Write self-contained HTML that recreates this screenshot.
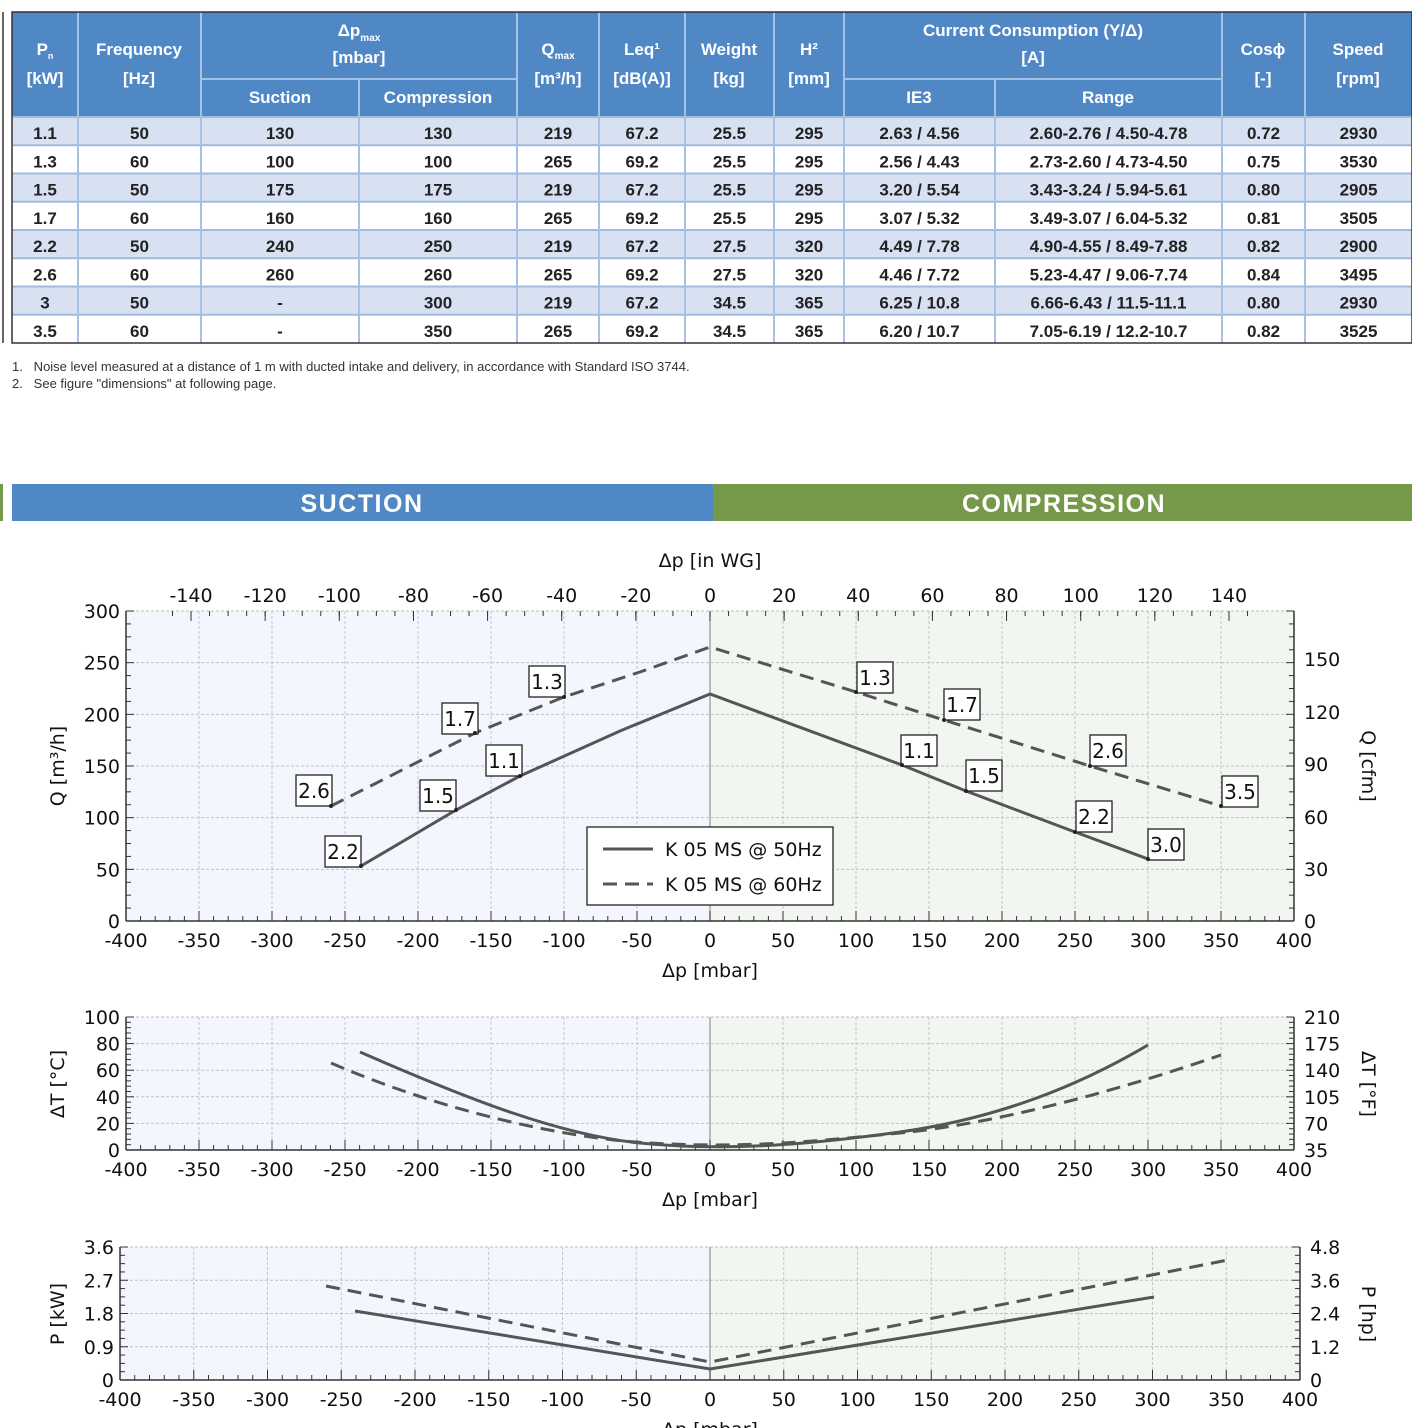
<!DOCTYPE html>
<html><head><meta charset="utf-8">
<style>
html,body{margin:0;padding:0;background:#fff;}
svg{display:block;}
.h{font-family:"Liberation Sans",sans-serif;font-weight:bold;fill:#fff;font-size:17px;text-anchor:middle;}
.d{font-family:"Liberation Sans",sans-serif;font-weight:bold;fill:#222;font-size:17px;text-anchor:middle;}
.t{font-family:"DejaVu Sans","Liberation Sans",sans-serif;fill:#111;font-size:19px;}
.n{font-family:"Liberation Sans",sans-serif;fill:#333;font-size:13px;}
</style></head><body>
<svg id="s" width="1412" height="1428" xmlns="http://www.w3.org/2000/svg"></svg>
<script>
const S=document.getElementById('s');let o='';
function R(x,y,w,h,f,extra){o+=`<rect x="${x}" y="${y}" width="${w}" height="${h}" fill="${f}" ${extra||''}/>`;}
function L(x1,y1,x2,y2,c,w,extra){o+=`<line x1="${x1}" y1="${y1}" x2="${x2}" y2="${y2}" stroke="${c}" stroke-width="${w}" ${extra||''}/>`;}
function T(x,y,s,cls,extra){o+=`<text x="${x}" y="${y}" class="${cls}" ${extra||''}>${s}</text>`;}
L(3,12,3,343,'#333',1.5);R(0,484,3,37,'#76984a');
const cols=[12,78,201,359,517,599,685,774,844,995,1222,1305,1412];
R(12,12,1400,105,'#5088c6');
const rows=[["1.1","50","130","130","219","67.2","25.5","295","2.63 / 4.56","2.60-2.76 / 4.50-4.78","0.72","2930"],
["1.3","60","100","100","265","69.2","25.5","295","2.56 / 4.43","2.73-2.60 / 4.73-4.50","0.75","3530"],
["1.5","50","175","175","219","67.2","25.5","295","3.20 / 5.54","3.43-3.24 / 5.94-5.61","0.80","2905"],
["1.7","60","160","160","265","69.2","25.5","295","3.07 / 5.32","3.49-3.07 / 6.04-5.32","0.81","3505"],
["2.2","50","240","250","219","67.2","27.5","320","4.49 / 7.78","4.90-4.55 / 8.49-7.88","0.82","2900"],
["2.6","60","260","260","265","69.2","27.5","320","4.46 / 7.72","5.23-4.47 / 9.06-7.74","0.84","3495"],
["3","50","-","300","219","67.2","34.5","365","6.25 / 10.8","6.66-6.43 / 11.5-11.1","0.80","2930"],
["3.5","60","-","350","265","69.2","34.5","365","6.20 / 10.7","7.05-6.19 / 12.2-10.7","0.82","3525"]];
const rh=28.25;
rows.forEach((r,i)=>{const y=117+i*rh;R(12,y,1400,rh,i%2?'#fff':'#d7e1f2');
 r.forEach((v,j)=>T((cols[j]+cols[j+1])/2,y+22,v,'d'));
 L(12,y,1412,y,'#9fbbe0',2);});
cols.forEach((x,j)=>{if(j>0&&j<cols.length-1){const y0=(x==359||x==995)?79:12;L(x,y0,x,343,'#a7c1e4',2);}});
L(201,79,517,79,'#a7c1e4',2);L(844,79,1222,79,'#a7c1e4',2);
o+=`<rect x="12" y="12" width="1400" height="331" fill="none" stroke="#333" stroke-width="1.5"/>`;
T(45,55,'P<tspan font-size="9" dy="4">n</tspan>','h');T(45,84,'[kW]','h');
T(139,55,'Frequency','h');T(139,84,'[Hz]','h');
T(359,36,'Δp<tspan font-size="10" dy="5">max</tspan>','h');T(359,63,'[mbar]','h');
T(280,103,'Suction','h');T(438,103,'Compression','h');
T(558,55,'Q<tspan font-size="10" dy="4">max</tspan>','h');T(558,84,'[m³/h]','h');
T(642,55,'Leq¹','h');T(642,84,'[dB(A)]','h');
T(729,55,'Weight','h');T(729,84,'[kg]','h');
T(809,55,'H²','h');T(809,84,'[mm]','h');
T(1033,36,'Current Consumption (Y/Δ)','h');T(1033,63,'[A]','h');
T(919,103,'IE3','h');T(1108,103,'Range','h');
T(1263,55,'Cosϕ','h');T(1263,84,'[-]','h');
T(1358,55,'Speed','h');T(1358,84,'[rpm]','h');
T(12,371,'1.&#160;&#160; Noise level measured at a distance of 1 m with ducted intake and delivery, in accordance with Standard ISO 3744.','n');
T(12,388,'2.&#160;&#160; See figure "dimensions" at following page.','n');
R(12,484,701,37,'#5088c6');R(713,484,699,37,'#76984a');
T(362,512,'SUCTION','h','style="font-size:25px;letter-spacing:1.5px"');
T(1064,512,'COMPRESSION','h','style="font-size:25px;letter-spacing:1.5px"');
function chart(x0,x1,y0,y1,ny,lv,rv,minorY){
 const xm=(x0+x1)/2;R(x0,y0,xm-x0,y1-y0,'#f3f7fd');R(xm,y0,x1-xm,y1-y0,'#f2f6f0');
 const dx=(x1-x0)/16;
 for(let i=1;i<16;i++){const x=x0+i*dx;L(x,y0,x,y1,i<8?'#b6c8da':'#bfcab8',1,'stroke-dasharray="3,2"');}
 for(let i=1;i<ny;i++){const y=y0+i*(y1-y0)/ny;L(x0,y,x1,y,'#b8c4cc',1,'stroke-dasharray="3,2"');}
 L(x0,y0,x1,y0,'#bbb',1,'stroke-dasharray="3,2"');
 L(xm,y0,xm,y1,'#8a9a88',1.2);
 L(x0,y0,x0,y1,'#333',1.5);L(x1,y0,x1,y1,'#333',1.5);L(x0,y1,x1,y1,'#333',1.5);
 for(let i=0;i<=80;i++){const x=x0+i*(x1-x0)/80;L(x,y1,x,y1-(i%5==0?10:5),'#333',1);}
 const ns=ny*minorY;for(let i=0;i<=ns;i++){const y=y0+i*(y1-y0)/ns;L(x0,y,x0+(i%minorY==0?8:5),y,'#333',1);L(x1,y,x1-(i%minorY==0?8:5),y,'#333',1);}
 for(let i=0;i<=16;i++){const v=-400+i*50;T(x0+i*dx,y1+26,v,'t','text-anchor="middle"');}
 lv.forEach((v,i)=>T(x0-6,y1-i*(y1-y0)/ny+7,v,'t','text-anchor="end"'));
 rv.forEach((v,i)=>T(x1+10,y1-i*(y1-y0)/(rv.length-1)+7,v,'t'));
}
chart(126,1294,611,921,6,['0','50','100','150','200','250','300'],[],4);
[['0',921],['30',869],['60',817],['90',764],['120',712],['150',659]].forEach(a=>T(1304,a[1]+7,a[0],'t'));
for(let v=-140;v<=140;v+=20){const x=710+v*3.707;T(x,602,v,'t','text-anchor="middle"');L(x,611,x,621,'#333',1);}
for(let v=-145;v<=145;v+=5){const x=710+v*3.707;if(x>126&&x<1294)L(x,611,x,616,'#333',1);}
T(710,567,'Δp [in WG]','t','text-anchor="middle"');T(710,977,'Δp [mbar]','t','text-anchor="middle"');
T(0,0,'Q [m³/h]','t','text-anchor="middle" transform="translate(64,766) rotate(-90)"');
T(0,0,'Q [cfm]','t','text-anchor="middle" transform="translate(1362,766) rotate(90)"');
const ln='fill="none" stroke="#555" stroke-width="3"';const dsh='stroke-dasharray="14,8"';
o+=`<polyline points="361,866 456,810 520,776 620,731 710,694 902,765 966,791 1075,832 1148,859" ${ln}/>`;
o+=`<polyline points="331,806 475,733 564,697 640,672 710,647 856,692 944,720 1090,766 1221,806" ${ln} ${dsh}/>`;
function lab(x,y,s,px,py){o+=`<rect x="${x}" y="${y}" width="36" height="31" fill="#fff" stroke="#222" stroke-width="1.3"/>`;T(x+18,y+23,s,'t','text-anchor="middle" style="font-size:20px"');o+=`<circle cx="${px}" cy="${py}" r="2" fill="#222"/>`;}
lab(296,775,'2.6',331,806);lab(442,703,'1.7',475,733);lab(529,666,'1.3',564,697);
lab(325,836,'2.2',361,866);lab(420,780,'1.5',456,810);lab(486,745,'1.1',520,776);
lab(857,662,'1.3',856,692);lab(944,689,'1.7',944,720);lab(1090,735,'2.6',1090,766);lab(1222,776,'3.5',1221,806);
lab(901,735,'1.1',902,765);lab(966,760,'1.5',966,791);lab(1076,801,'2.2',1075,832);lab(1148,829,'3.0',1148,859);
o+=`<rect x="587" y="827" width="246" height="78" fill="#fff" stroke="#222" stroke-width="1.3"/>`;
L(603,849,653,849,'#555',3);L(603,884,653,884,'#555',3,dsh);
T(665,856,'K 05 MS @ 50Hz','t');T(665,891,'K 05 MS @ 60Hz','t');
chart(126,1294,1017,1150,5,['0','20','40','60','80','100'],['35','70','105','140','175','210'],5);
T(710,1206,'Δp [mbar]','t','text-anchor="middle"');
T(0,0,'ΔT [°C]','t','text-anchor="middle" transform="translate(64,1084) rotate(-90)"');
T(0,0,'ΔT [°F]','t','text-anchor="middle" transform="translate(1362,1084) rotate(90)"');
o+=`<path d="M360,1052 C470,1100 560,1135 640,1143 S800,1146 900,1132 S1080,1085 1148,1045" ${ln}/>`;
o+=`<path d="M331,1063 C440,1110 560,1138 650,1143 S800,1143 900,1133 S1120,1090 1221,1055" ${ln} ${dsh}/>`;
chart(120,1300,1247,1380,4,['0','0.9','1.8','2.7','3.6'],['0','1.2','2.4','3.6','4.8'],4);
T(710,1436,'Δp [mbar]','t','text-anchor="middle"');
T(0,0,'P [kW]','t','text-anchor="middle" transform="translate(64,1314) rotate(-90)"');
T(0,0,'P [hp]','t','text-anchor="middle" transform="translate(1362,1314) rotate(90)"');
o+=`<polyline points="355,1311 710,1369 1154,1297" ${ln}/>`;
o+=`<polyline points="326,1286 710,1362 1228,1260" ${ln} ${dsh}/>`;
S.innerHTML=o;
</script>
</body></html>
